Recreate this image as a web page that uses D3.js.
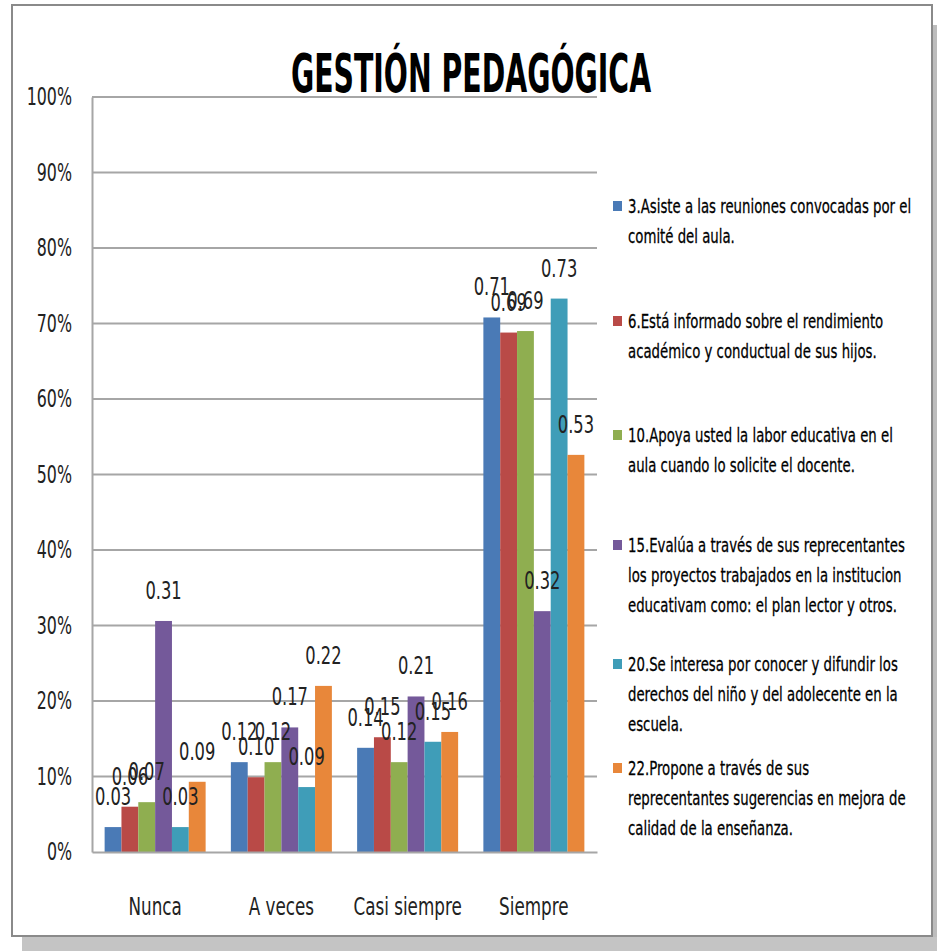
<!DOCTYPE html>
<html><head><meta charset="utf-8">
<script src="https://cdn.jsdelivr.net/npm/d3@7"></script>
<style>
body{margin:0;background:#fff;}
text{font-family:"DejaVu Sans",sans-serif;}
</style></head>
<body><svg id="c" width="937" height="951"></svg>
<script>
const title = "GESTIÓN PEDAGÓGICA";
const categories = ["Nunca","A veces","Casi siempre","Siempre"];
const seriesNames = [
  "3.Asiste a las reuniones convocadas por el|comité del aula.",
  "6.Está informado sobre el rendimiento|académico y conductual de sus hijos.",
  "10.Apoya usted la labor educativa en el|aula cuando lo solicite el docente.",
  "15.Evalúa a través de sus reprecentantes|los proyectos trabajados en la institucion|educativam como: el plan lector y otros.",
  "20.Se interesa por conocer y difundir los|derechos del niño y del adolecente en la|escuela.",
  "22.Propone a través de sus|reprecentantes sugerencias en mejora de|calidad de la enseñanza."
];
const colors = ["#4a7ab6","#b94a47","#8fae50","#74599a","#3f9db8","#e8873a"];
const s3  = [0.033, 0.119, 0.138, 0.708];
const s6  = [0.060, 0.099, 0.152, 0.688];
const s10 = [0.066, 0.119, 0.119, 0.690];
const s15 = [0.306, 0.165, 0.206, 0.319];
const s20 = [0.033, 0.086, 0.146, 0.733];
const s22 = [0.093, 0.220, 0.159, 0.526];
const seriesValues = [s3, s6, s10, s15, s20, s22];
const yTicks = [0,0.1,0.2,0.3,0.4,0.5,0.6,0.7,0.8,0.9,1.0];

(function(){
const svg = d3.select("#c");
svg.append("rect").attr("x",932).attr("y",25).attr("width",5).attr("height",926).attr("fill","#bdbdbd");
svg.append("rect").attr("x",22).attr("y",937).attr("width",915).attr("height",14).attr("fill","#c4c4c4");
svg.append("rect").attr("x",12).attr("y",5).attr("width",920).attr("height",931)
  .attr("fill","#fff").attr("stroke","#8a8a8a").attr("stroke-width",2);

const pL=92, pR=597, pT=97, pB=852;
const x0 = d3.scaleBand().domain(categories).range([pL,pR]).paddingInner(0.2).paddingOuter(0.1);
const x1 = d3.scaleBand().domain(d3.range(seriesNames.length)).range([0,x0.bandwidth()]);
const y = d3.scaleLinear().domain([0,1]).range([pB,pT]);

function squeeze(sel, sx){
  sel.each(function(){
    const t = d3.select(this);
    const x = +t.attr("x")||0, yy = +t.attr("y")||0;
    t.attr("x",0).attr("y",0).attr("transform",`translate(${x},${yy}) scale(${sx},1)`);
  });
}

svg.append("g").selectAll("line").data(yTicks.slice(1)).join("line")
  .attr("x1",pL).attr("x2",pR).attr("y1",d=>y(d)).attr("y2",d=>y(d))
  .attr("stroke","#a6a6a6").attr("stroke-width",2);

const yAxis = svg.append("g").attr("transform",`translate(${pL},0)`)
  .call(d3.axisLeft(y).tickValues(yTicks).tickFormat(d3.format(".0%")).tickSize(0).tickPadding(20));
yAxis.select(".domain").attr("stroke","#a6a6a6").attr("stroke-width",2);
yAxis.selectAll("text").attr("font-size",24).attr("fill","#222").call(squeeze,0.66);

const groups = svg.append("g").selectAll("g").data(categories).join("g")
  .attr("transform",d=>`translate(${x0(d)},0)`);
groups.selectAll("rect").data((c,ci)=>seriesValues.map((s,si)=>({si,v:s[ci]}))).join("rect")
  .attr("x",d=>x1(d.si)).attr("width",x1.bandwidth())
  .attr("y",d=>y(d.v)).attr("height",d=>pB-y(d.v)).attr("fill",d=>colors[d.si]);
groups.selectAll("text").data((c,ci)=>seriesValues.map((s,si)=>({si,v:s[ci]}))).join("text")
  .attr("x",d=>x1(d.si)+x1.bandwidth()/2).attr("y",d=>y(d.v)-22)
  .attr("text-anchor","middle").attr("font-size",24).attr("fill","#222")
  .text(d=>d.v.toFixed(2)).call(squeeze,0.68);

const xAxis = svg.append("g").attr("transform",`translate(0,${pB})`)
  .call(d3.axisBottom(x0).tickSize(0).tickPadding(46));
xAxis.select(".domain").attr("stroke","#a6a6a6").attr("stroke-width",2);
xAxis.selectAll("text").attr("font-size",24).attr("fill","#222").call(squeeze,0.70);

svg.append("text").attr("x",471).attr("y",92).attr("text-anchor","middle")
  .attr("font-size",53).attr("font-weight","bold").attr("fill","#000").text(title).call(squeeze,0.535);

const legendBase = [213,328,442,552,671,775];
const lh = 30;
seriesNames.forEach((name,i)=>{
  const g = svg.append("g").attr("transform",`translate(613,${legendBase[i]})`);
  g.append("rect").attr("x",0).attr("y",-12).attr("width",9).attr("height",10).attr("fill",colors[i]);
  name.split("|").forEach((line,j)=>{
    g.append("text").attr("x",15).attr("y",j*lh).attr("font-size",20).attr("fill","#000")
      .attr("stroke","#000").attr("stroke-width",0.3).text(line).call(squeeze,0.665);
  });
});
})();
</script></body></html>
